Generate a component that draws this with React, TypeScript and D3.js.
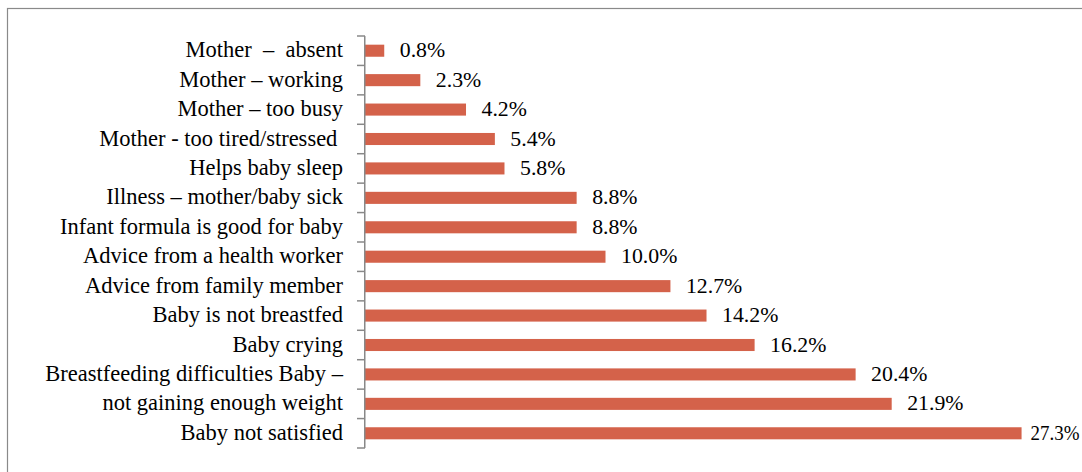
import React from "react";
import * as d3 from "d3";

const categories: string[] = [
  "Mother  –  absent",
  "Mother – working",
  "Mother – too busy",
  "Mother - too tired/stressed ",
  "Helps baby sleep",
  "Illness – mother/baby sick",
  "Infant formula is good for baby",
  "Advice from a health worker",
  "Advice from family member",
  "Baby is not breastfed",
  "Baby crying",
  "Breastfeeding difficulties Baby –",
  "not gaining enough weight",
  "Baby not satisfied",
];

const values: number[] = [0.8, 2.3, 4.2, 5.4, 5.8, 8.8, 8.8, 10.0, 12.7, 14.2, 16.2, 20.4, 21.9, 27.3];

const valueLabels: string[] = values.map((v) => v.toFixed(1) + "%");

const W = 1082;
const H = 472;

export default function App() {
  const x = d3.scaleLinear().domain([0, 30]).range([365, 1086.5]);
  const y = d3
    .scaleBand<number>()
    .domain(d3.range(categories.length))
    .range([36, 448])
    .paddingInner(0)
    .paddingOuter(0);
  const bw = y.bandwidth();
  const barH = bw * 0.41;
  const font = "Liberation Serif";
  const valSize = 21.8;
  const catSize = 22.5;
  const ticks = d3.range(categories.length + 1).map((i) => 36 + i * bw);
  const rightLimit = 1079.5;

  return (
    <svg
      width={W}
      height={H}
      style={{ position: "absolute", left: 0, top: 0, display: "block", background: "#fff" }}
    >
      <rect x={7.5} y={8.5} width={1200} height={600} fill="#fff" stroke="#8a8a8a" strokeWidth={1.2} />
      {values.map((v, i) => {
        const cy = (y(i) as number) + bw / 2;
        const emW = 2.6;
        const natural = x(v) + 15.5;
        const squeeze = natural + emW * valSize > rightLimit;
        const lx = squeeze ? x(v) + 9 : natural;
        const fs = squeeze ? 20.5 : valSize;
        return (
          <g key={i}>
            <rect x={x(0)} y={cy - barH / 2} width={x(v) - x(0)} height={barH} fill="#D4624A" />
            <text
              x={lx}
              y={cy + 6.5}
              style={{ fontFamily: font, fontSize: fs }}
              fill="#000"
              {...(squeeze ? { textLength: rightLimit - lx, lengthAdjust: "spacingAndGlyphs" } : {})}
            >
              {valueLabels[i]}
            </text>
            <text
              x={343}
              y={cy + 6.5}
              textAnchor="end"
              fill="#000"
              style={{ whiteSpace: "pre", fontFamily: font, fontSize: catSize }}
            >
              {categories[i]}
            </text>
          </g>
        );
      })}
      <line x1={364.75} x2={364.75} y1={36} y2={448} stroke="#888" strokeWidth={1.5} />
      {ticks.map((t, i) => (
        <line key={i} x1={357} x2={365} y1={t} y2={t} stroke="#888" strokeWidth={1.5} />
      ))}
    </svg>
  );
}
